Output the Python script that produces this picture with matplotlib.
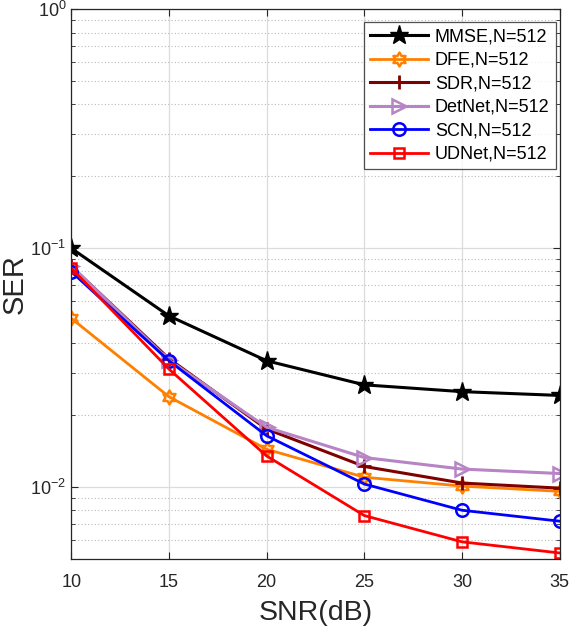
import numpy as np
import matplotlib
matplotlib.use("Agg")
import matplotlib.pyplot as plt
from matplotlib.path import Path
from matplotlib.ticker import LogLocator

plt.rcParams['font.family'] = ['Liberation Sans', 'DejaVu Sans']
plt.rcParams['mathtext.fontset'] = 'custom'
plt.rcParams['mathtext.rm'] = 'Liberation Sans'
plt.rcParams['mathtext.it'] = 'Liberation Sans'

snr = [10, 15, 20, 25, 30, 35]
labels = ["MMSE,N=512", "DFE,N=512", "SDR,N=512", "DetNet,N=512", "SCN,N=512", "UDNet,N=512"]
mmse = [0.100, 0.0521, 0.0338, 0.0268, 0.0251, 0.0242]
dfe = [0.0509, 0.0239, 0.0144, 0.0110, 0.0101, 0.0096]
sdr = [0.0840, 0.0345, 0.0175, 0.0122, 0.0104, 0.0099]
detnet = [0.0843, 0.0340, 0.0178, 0.0133, 0.0119, 0.0114]
scn = [0.0798, 0.0338, 0.0164, 0.0103, 0.0080, 0.0072]
udnet = [0.0825, 0.0312, 0.0135, 0.0076, 0.0059, 0.0053]

# six-pointed star marker (hexagram)
ang = np.pi / 2 + np.arange(12) * np.pi / 6
rad = np.where(np.arange(12) % 2 == 0, 1.0, 0.58)
verts = np.column_stack([rad * np.cos(ang), rad * np.sin(ang)])
verts = np.vstack([verts, verts[:1]])
hexagram = Path(verts, [Path.MOVETO] + [Path.LINETO] * 11 + [Path.CLOSEPOLY])

fig = plt.figure(figsize=(5.7, 6.26), dpi=100)
ax = fig.add_axes([0.125, 0.107, 0.857, 0.878])

ax.plot(snr, mmse, color='black', lw=2.2, marker='*', ms=14, label=labels[0])
ax.plot(snr, dfe, color='#FF8000', lw=2, marker=hexagram, ms=10, mfc='none', mew=1.8, label=labels[1])
ax.plot(snr, sdr, color='#800000', lw=2.2, marker='+', ms=10, mew=2, label=labels[2])
ax.plot(snr, detnet, color='#B784C6', lw=2.2, marker='>', ms=10, mfc='none', mew=1.8, label=labels[3])
ax.plot(snr, scn, color='#0000FF', lw=2, marker='o', ms=9, mfc='none', mew=1.8, label=labels[4])
ax.plot(snr, udnet, color='#FF0000', lw=2, marker='s', ms=7, mfc='none', mew=1.8, label=labels[5])

ax.set_yscale('log')
ax.set_xlim(10, 35)
ax.set_ylim(5e-3, 1)
ax.set_xticks(snr)
ax.yaxis.set_major_locator(LogLocator(base=10, numticks=10))
ax.yaxis.set_minor_locator(LogLocator(base=10, subs=np.arange(2, 10), numticks=10))
ax.tick_params(which='both', direction='in', top=True, right=True, labelsize=13, colors='#262626')
ax.tick_params(axis='x', pad=11)
ax.tick_params(which='major', length=5)
ax.tick_params(which='minor', length=3)
ax.grid(True, which='major', color='#DCDCDC', lw=0.9)
ax.grid(True, which='minor', color='#BBBBBB', lw=0.8, linestyle=(0, (1, 2)))
for s in ax.spines.values():
    s.set_color('#262626')
    s.set_linewidth(0.9)

ax.set_xlabel("SNR(dB)", fontsize=20.5, color='#262626', labelpad=6)
ax.set_ylabel("SER", fontsize=21, color='#262626')
ax.yaxis.set_label_coords(-0.088, 0.5)

leg = ax.legend(loc='upper right', bbox_to_anchor=(0.992, 0.977), borderaxespad=0,
                fontsize=13, frameon=True, fancybox=False,
                edgecolor='#262626', handlelength=3.2, borderpad=0.35, labelspacing=0.36,
                handletextpad=0.4)
leg.get_frame().set_linewidth(0.9)

fig.savefig("out.png", dpi=100)
